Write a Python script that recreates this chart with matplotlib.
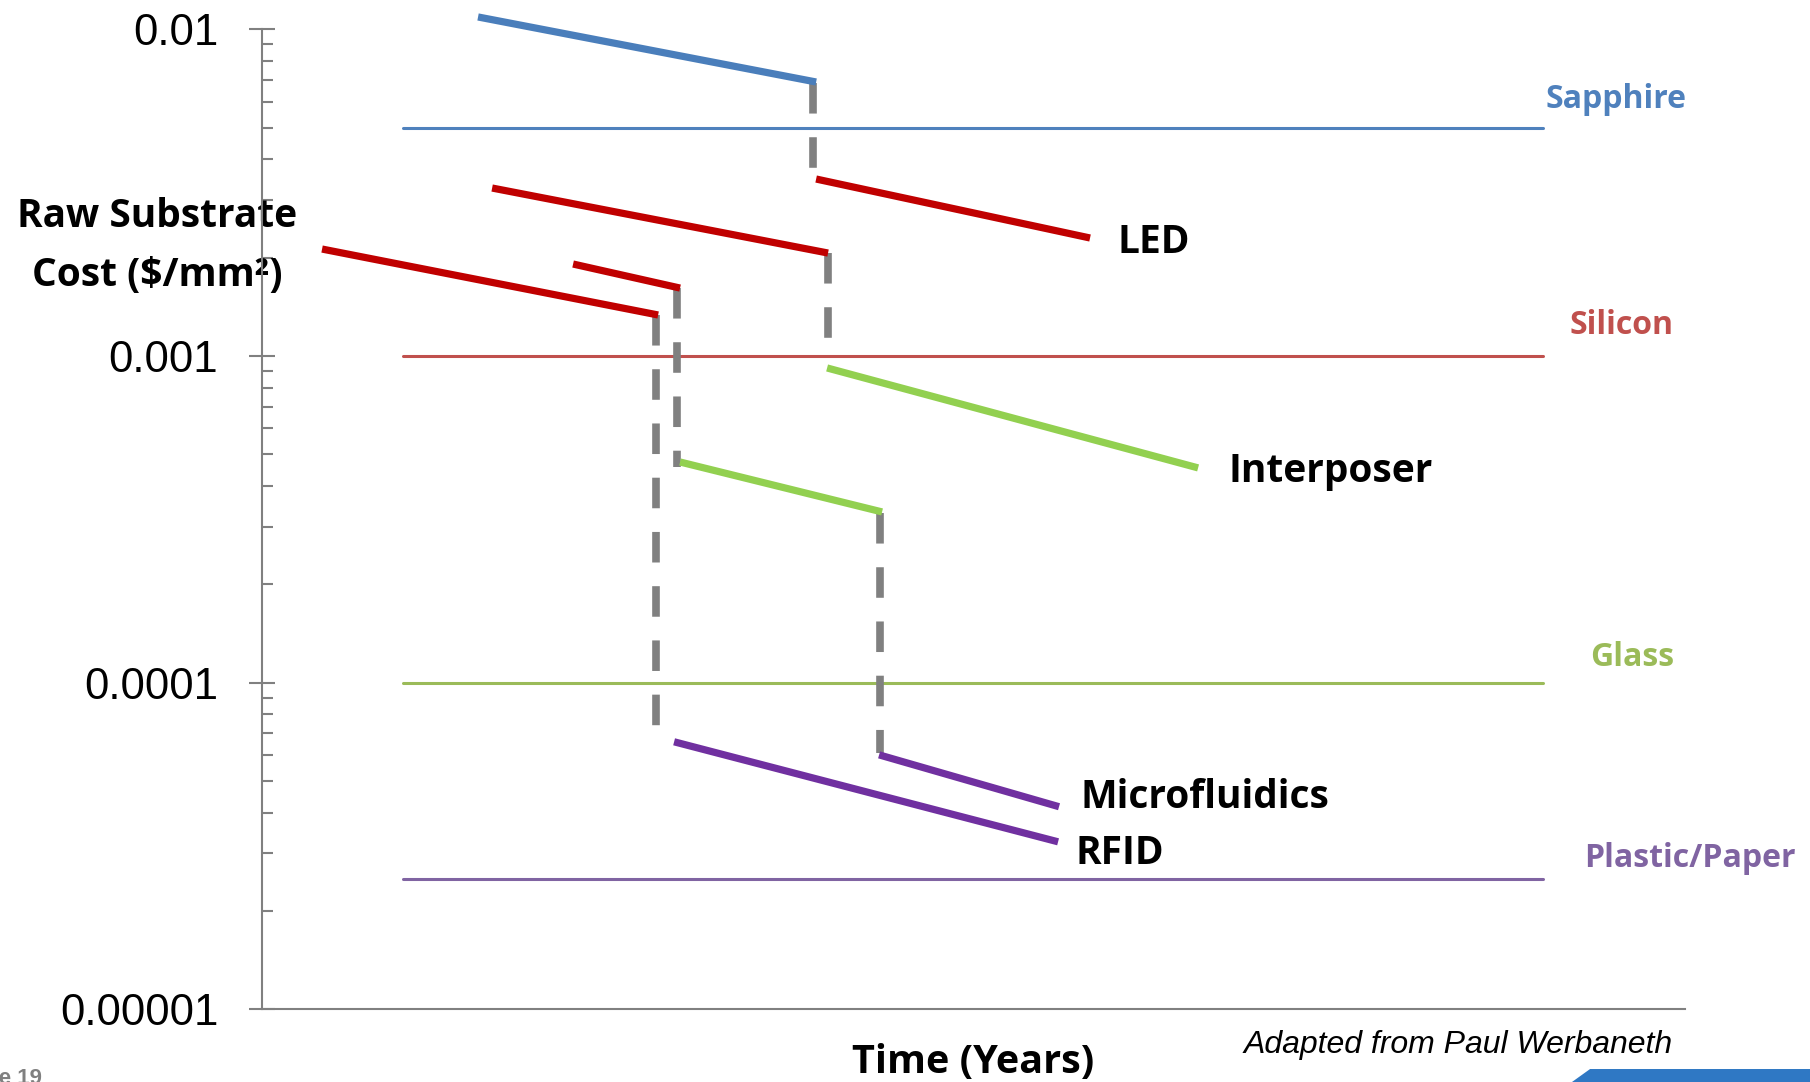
import matplotlib
matplotlib.use('Agg')  # no display
import matplotlib.pyplot as plt
from matplotlib.patches import Polygon
from matplotlib.ticker import FixedLocator, FixedFormatter, LogLocator, NullFormatter

# --- Data ---
# flat reference cost of each raw substrate
SUBSTRATES = ['Sapphire', 'Silicon', 'Glass', 'Plastic/Paper']
SUBSTRATE_COST = [5e-3, 1e-3, 1e-4, 2.5e-5]
SUBSTRATE_SPAN = [10.4, 94.6]          # time span of the flat lines

# sloped cost trends (time start/end, cost start/end, substrate)
SEG_SUBSTRATE = ['Sapphire', 'Silicon', 'Silicon', 'Silicon', 'Silicon',
                 'Glass', 'Glass', 'Plastic/Paper', 'Plastic/Paper']
SEG_T0 = [15.95, 40.92, 16.99, 22.97, 4.43, 41.73, 30.87, 45.57, 30.43]
SEG_T1 = [40.92, 61.15, 41.80, 30.87, 29.25, 69.13, 45.79, 58.86, 58.79]
SEG_C0 = [0.01091, 0.003481, 0.003267, 0.001912, 0.002125,
          0.000919, 0.0004736, 6.01e-5, 6.59e-5]
SEG_C1 = [0.006898, 0.002297, 0.002066, 0.001614, 0.001335,
          0.0004543, 0.0003331, 4.17e-5, 3.256e-5]

# substrate switches (grey dashed drops)
JUMP_T = [40.69, 41.78, 30.65, 29.10, 45.64]
JUMP_C0 = [0.006848, 0.002066, 0.001614, 0.001335, 0.0003307]
JUMP_C1 = [0.003710, 0.001119, 0.0004573, 6.92e-5, 6.098e-5]

APPLICATIONS = ['LED', 'Interposer', 'Microfluidics', 'RFID']

YTICKS = [1e-5, 1e-4, 1e-3, 1e-2]
YTICK_LABELS = ['0.00001', '0.0001', '0.001', '0.01']

# --- Styles ---
FLAT_COLOR = {'Sapphire': '#4F81BD', 'Silicon': '#C0504D',
              'Glass': '#9BBB59', 'Plastic/Paper': '#8064A2'}
TREND_COLOR = {'Sapphire': '#4A7EBB', 'Silicon': '#C00000',
               'Glass': '#92D050', 'Plastic/Paper': '#7030A0'}
GREY = '#808080'
BOLD_FONT = ['Open Sans', 'DejaVu Sans']
ARIAL = ['Liberation Sans', 'DejaVu Sans']

fig = plt.figure(figsize=(18.1, 10.82), dpi=100)
ax = fig.add_axes([0.1448, 0.0672, 0.7862, 0.9057])

# flat substrate lines
for name, cost in zip(SUBSTRATES, SUBSTRATE_COST):
    ax.plot(SUBSTRATE_SPAN, [cost, cost], color=FLAT_COLOR[name], lw=2.2,
            solid_capstyle='round', zorder=2)

# grey dashed drops
for t, c0, c1 in zip(JUMP_T, JUMP_C0, JUMP_C1):
    ax.plot([t, t], [c0, c1], color=GREY, lw=5.5, linestyle=(0, (4.0, 3.1)),
            dash_capstyle='butt', zorder=3, clip_on=False)

# thick trend segments
for sub, t0, t1, c0, c1 in zip(SEG_SUBSTRATE, SEG_T0, SEG_T1, SEG_C0, SEG_C1):
    ax.plot([t0, t1], [c0, c1], color=TREND_COLOR[sub], lw=5.2,
            solid_capstyle='butt', zorder=4, clip_on=False)

ax.set_yscale('log')
ax.set_ylim(1e-5, 1e-2)
ax.set_xlim(0, 105.1)

# axis look
for side in ['top', 'right']:
    ax.spines[side].set_visible(False)
for side in ['left', 'bottom']:
    ax.spines[side].set_color(GREY)
    ax.spines[side].set_linewidth(1.5)
ax.set_xticks([])
ax.yaxis.set_major_locator(FixedLocator(YTICKS))
ax.yaxis.set_major_formatter(FixedFormatter(YTICK_LABELS))
ax.yaxis.set_minor_locator(LogLocator(base=10, subs=range(2, 10)))
ax.yaxis.set_minor_formatter(NullFormatter())
ax.tick_params(axis='y', which='major', direction='inout', length=19, width=1.5,
               color=GREY, pad=22, labelsize=31.5)
ax.tick_params(axis='y', which='minor', direction='in', length=8, width=1.5, color=GREY)
for lab in ax.get_yticklabels():
    lab.set_family(ARIAL)

ax.set_ylabel('Raw Substrate\nCost ($/mm²)', rotation=0, fontsize=28, fontweight='bold',
              family=BOLD_FONT, ha='center', va='center', linespacing=1.66)
ax.yaxis.set_label_coords(-0.0735, 0.779)
ax.set_xlabel('Time (Years)', fontsize=28.5, fontweight='bold', family=BOLD_FONT,
              ha='center', va='baseline')
ax.xaxis.set_label_coords(0.5, -0.065)

# substrate names at the right end of the flat lines
sub_pos = [(94.76, 0.005742), (96.53, 0.001169), (98.08, 0.0001125), (97.64, 2.73e-5)]
for name, (tx, ty) in zip(SUBSTRATES, sub_pos):
    ax.text(tx, ty, name, color=FLAT_COLOR[name], fontsize=23, fontweight='bold',
            family=BOLD_FONT, ha='left', va='baseline', clip_on=False)

# application labels
app_pos = [(63.15, 0.00207), (71.34, 0.0004116), (60.41, 4.14e-5), (60.04, 2.79e-5)]
for name, (tx, ty) in zip(APPLICATIONS, app_pos):
    ax.text(tx, ty, name, color='black', fontsize=28, fontweight='bold',
            family=BOLD_FONT, ha='left', va='baseline', clip_on=False)

fig.text(0.6873, 0.0268, 'Adapted from Paul Werbaneth', fontsize=23, style='italic',
         family=ARIAL, ha='left', va='baseline')
fig.text(0.0232, -0.0018, 'Page 19', fontsize=16, fontweight='bold', color=GREY,
         family=ARIAL, ha='right', va='baseline')

# slide footer logo strip
fig.patches.append(Polygon([(0.8685, 0), (0.8785, 0.012), (1, 0.012), (1, 0)],
                           closed=True, transform=fig.transFigure,
                           facecolor='#2F78C4', edgecolor='none'))

fig.savefig('out.png', dpi=100)
